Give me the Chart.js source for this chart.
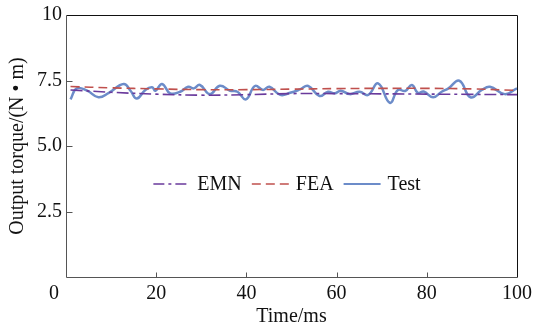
<!DOCTYPE html>
<html><head><meta charset="utf-8">
<script src="https://cdn.jsdelivr.net/npm/chart.js@4/dist/chart.umd.min.js"></script>
<style>html,body{margin:0;padding:0;background:#fff}#wrap{width:533px;height:327px}</style>
</head><body><div id="wrap"><canvas id="c" width="533" height="327"></canvas></div>
<script>
const seriesNames = ['EMN', 'FEA', 'Test'];
const emnTime = [1, 10, 20, 30, 40, 50, 60, 70, 80, 90, 100];
const emnTorque = [7.14, 7.05, 6.98, 6.94, 6.96, 7.0, 7.0, 6.99, 6.98, 6.97, 6.96];
const feaTime = [1, 10, 20, 30, 40, 50, 60, 70, 80, 90, 100];
const feaTorque = [7.27, 7.22, 7.18, 7.15, 7.15, 7.17, 7.19, 7.2, 7.2, 7.18, 7.12];
const testTime = [1, 2.4, 4.7, 7.2, 9.5, 12.8, 14.3, 15.7, 17.6, 19.1, 19.8, 21.3, 23.1, 25.3, 27.1, 28.3, 29.7, 31.9, 34.1, 36.4, 38.0, 39.9, 41.9, 43.7, 45.1, 47.5, 49.7, 51.9, 53.7, 56.2, 58.1, 59.6, 60.9, 62.9, 65.1, 67.0, 69.2, 71.8, 73.6, 75.2, 76.7, 78.0, 79.3, 81.4, 83.3, 84.8, 87.2, 89.7, 92.2, 94.0, 97.3, 100];
const testTorque = [6.78, 7.2, 7.11, 6.86, 7.03, 7.37, 7.11, 6.81, 7.14, 7.24, 7.11, 7.37, 7.01, 7.07, 7.26, 7.2, 7.33, 6.98, 7.3, 7.11, 7.07, 6.78, 7.29, 7.14, 7.26, 6.95, 7.03, 7.16, 7.29, 6.91, 7.07, 7.01, 7.11, 6.98, 7.07, 6.95, 7.39, 6.65, 7.14, 7.1, 7.33, 7.03, 7.08, 6.86, 7.07, 7.2, 7.49, 6.86, 7.14, 7.26, 6.98, 7.2];
const xTicks = [0, 20, 40, 60, 80, 100];
const yTicks = [0, 2.5, 5.0, 7.5, 10];

const FONT = '"Liberation Serif", "Times New Roman", serif';
const FS = 20;
const pts = (xs, ys) => xs.map((x, i) => ({x, y: ys[i]}));

const framePlugin = {
  id: 'frame',
  afterDraw(chart) {
    const {ctx, chartArea: a, scales: {x, y}} = chart;
    const L = Math.round(a.left) + 0.5, R = Math.round(a.right) + 0.5;
    const T = Math.round(a.top) + 0.5, B = Math.round(a.bottom) + 0.5;
    ctx.save();
    ctx.lineWidth = 1;
    ctx.strokeStyle = '#111';
    ctx.beginPath();
    ctx.moveTo(L, T); ctx.lineTo(R, T); ctx.lineTo(R, B);
    ctx.stroke();
    ctx.strokeStyle = '#555';
    ctx.beginPath();
    ctx.moveTo(L, T); ctx.lineTo(L, B); ctx.lineTo(R, B);
    x.ticks.forEach(t => {
      const px = Math.round(x.getPixelForValue(t.value)) + 0.5;
      if (t.value > 0 && t.value < 100) { ctx.moveTo(px, B); ctx.lineTo(px, B - 5); }
    });
    y.ticks.forEach(t => {
      const py = Math.round(y.getPixelForValue(t.value)) + 0.5;
      if (t.value > 0 && t.value < 10) { ctx.moveTo(L, py); ctx.lineTo(L + 6, py); }
    });
    ctx.stroke();
    // shared origin label
    ctx.fillStyle = '#111';
    ctx.font = FS + 'px ' + FONT;
    ctx.textAlign = 'center';
    ctx.textBaseline = 'middle';
    ctx.fillText(String(xTicks[0]), x.getPixelForValue(0) - 12, a.bottom + 17);
    // legend
    const ds = chart.data.datasets;
    const lineW = 37, gapT = 7, gapI = 10;
    const widths = ds.map(d => lineW + gapT + ctx.measureText(d.label).width);
    const total = widths.reduce((s, w) => s + w, 0) + gapI * (ds.length - 1);
    let cx = 287 - total / 2;
    const ly = y.getPixelForValue(0) - 93;
    ds.forEach((d, i) => {
      ctx.save();
      ctx.strokeStyle = d.borderColor;
      ctx.lineWidth = Math.min(d.borderWidth, 1.8);
      ctx.setLineDash(d.legendDash || []);
      ctx.beginPath();
      ctx.moveTo(cx, ly); ctx.lineTo(cx + lineW, ly);
      ctx.stroke();
      ctx.restore();
      ctx.textAlign = 'left';
      ctx.fillText(d.label, cx + lineW + gapT, ly + 1);
      cx += widths[i] + gapI;
    });
    ctx.restore();
  }
};

new Chart(document.getElementById('c'), {
  type: 'line',
  data: {
    datasets: [
      {label: seriesNames[0], data: pts(emnTime, emnTorque), borderColor: '#6a3a9c', borderWidth: 1.6, borderDash: [12, 4, 3, 4], legendDash: [11, 4, 3, 4], pointRadius: 0, tension: 0.4},
      {label: seriesNames[1], data: pts(feaTime, feaTorque), borderColor: '#c0504d', borderWidth: 1.6, borderDash: [9, 5], legendDash: [9, 5], pointRadius: 0, tension: 0.4},
      {label: seriesNames[2], data: pts(testTime, testTorque), borderColor: '#6c8cc9', borderWidth: 2.5, pointRadius: 0, tension: 0.45}
    ]
  },
  options: {
    responsive: false,
    animation: false,
    events: [],
    layout: {padding: {top: 15, right: 16, left: 0, bottom: 0}},
    plugins: {legend: {display: false}, tooltip: {enabled: false}},
    scales: {
      x: {
        type: 'linear', min: 0, max: 100,
        afterBuildTicks: s => { s.ticks = xTicks.map(v => ({value: v})); },
        ticks: {callback: v => v === 0 ? '' : String(v), color: '#111', font: {family: FONT, size: FS}, padding: 5, maxRotation: 0, autoSkip: false},
        grid: {drawOnChartArea: false, drawTicks: false},
        border: {display: false},
        title: {display: true, text: 'Time/ms', color: '#111', font: {family: FONT, size: FS, lineHeight: 1.0}, padding: {top: 0, bottom: 0}},
        afterFit: s => { s.height = 50; s.paddingLeft = 0; s.paddingRight = 0; }
      },
      y: {
        type: 'linear', min: 0, max: 10,
        afterBuildTicks: s => { s.ticks = yTicks.map(v => ({value: v})); },
        ticks: {callback: v => v === 0 ? '' : (v === 10 ? '10' : v.toFixed(1)), color: '#111', font: {family: FONT, size: FS}, padding: 4, autoSkip: false},
        grid: {drawOnChartArea: false, drawTicks: false},
        border: {display: false},
        title: {display: true, text: 'Output torque/(N • m)', color: '#111', font: {family: FONT, size: FS}, padding: {top: 6, bottom: 0}},
        afterFit: s => { s.width = 66; s.paddingTop = 0; s.paddingBottom = 0; }
      }
    }
  },
  plugins: [framePlugin]
});
</script>
</body></html>
